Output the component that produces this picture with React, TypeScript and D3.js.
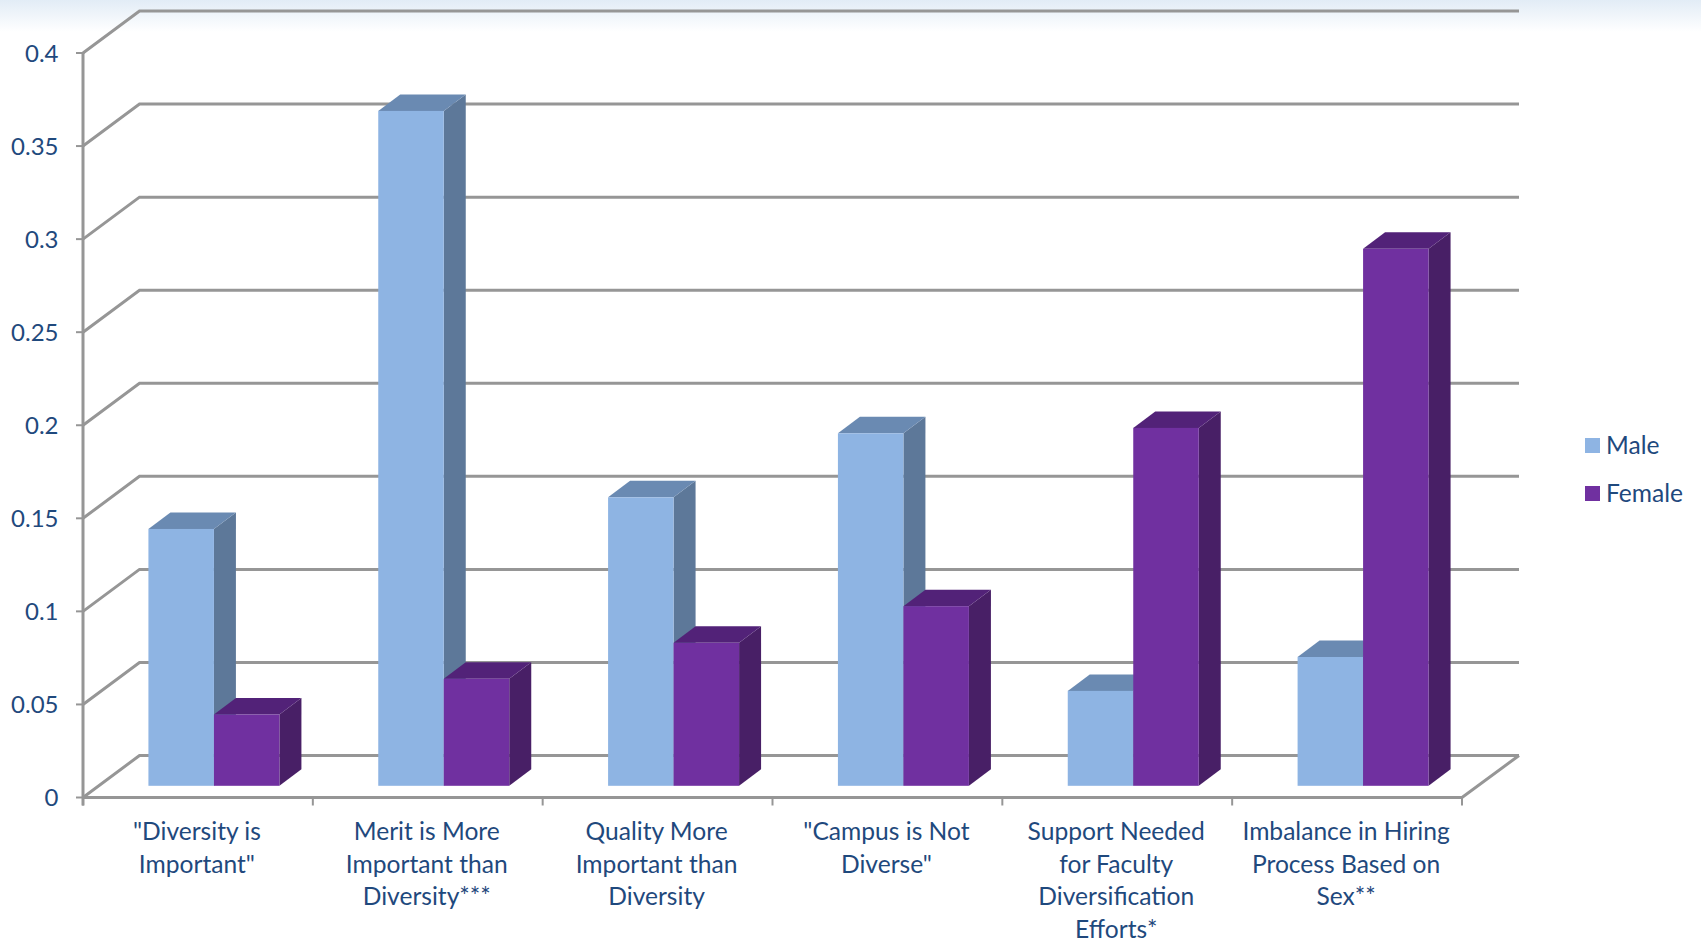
import React from "react";
import * as d3 from "d3";

const categories = [
  ['"Diversity is', 'Important"'],
  ["Merit is More", "Important than", "Diversity***"],
  ["Quality More", "Important than", "Diversity"],
  ['"Campus is Not', 'Diverse"'],
  ["Support Needed", "for Faculty", "Diversification", "Efforts*"],
  ["Imbalance in Hiring", "Process Based on", "Sex**"],
];
const male = [0.138, 0.3626, 0.155, 0.1894, 0.051, 0.0692];
const female = [0.0383, 0.0575, 0.0768, 0.0965, 0.1923, 0.2885];
const yTicks = [0, 0.05, 0.1, 0.15, 0.2, 0.25, 0.3, 0.35, 0.4];
const seriesNames = ["Male", "Female"];
const front = ["#8eb4e3", "#7030a0"];
const side = ["#5d7899", "#481f66"];
const top = ["#6a8ab2", "#522278"];

const W = 1701, H = 940;
const TEXT = "#1f497d";
const GRID = "#969696";
const FONT = "Lato, 'Open Sans', sans-serif";
const wallDx = 56.5, wallDy = 42;
const barDx = 22, barDy = 16.5;
const planeDx = 16, planeDy = 11.7;

export default function App() {
  const y = d3.scaleLinear().domain([0, 0.4]).range([797.5, 53]);
  const x = d3.scaleBand<number>().domain(d3.range(categories.length)).range([83, 1462]);
  const sub = d3.scaleBand<number>().domain([0, 1]).range([0, x.bandwidth()]).paddingOuter(0.7545).paddingInner(0);
  const values = [male, female];
  const poly = (pts: [number, number][]) => pts.map((p) => p.join(",")).join(" ");

  return (
    <svg width={W} height={H} viewBox={`0 0 ${W} ${H}`} style={{ position: "absolute", left: 0, top: 0, display: "block", background: "#fff" }} fontFamily={FONT}>
      <defs>
        <linearGradient id="bg" x1="0" y1="0" x2="0" y2="1">
          <stop offset="0" stopColor="#e2ecf6" />
          <stop offset="1" stopColor="#ffffff" />
        </linearGradient>
      </defs>
      <rect x={0} y={0} width={W} height={32} fill="url(#bg)" />

      {yTicks.map((t) => (
        <polyline key={t} points={poly([[83, y(t)], [83 + wallDx, y(t) - wallDy], [1519, y(t) - wallDy]])} fill="none" stroke={GRID} strokeWidth={3} />
      ))}
      <polyline points={poly([[83, y(0)], [1462, y(0)], [1519, y(0) - wallDy]])} fill="none" stroke={GRID} strokeWidth={3} />
      <line x1={83} x2={83} y1={y(0.4)} y2={y(0) + 8} stroke={GRID} strokeWidth={3} />
      {yTicks.map((t) => (
        <line key={t} x1={76} x2={83} y1={y(t)} y2={y(t)} stroke={GRID} strokeWidth={2} />
      ))}
      {d3.range(categories.length + 1).map((i) => {
        const tx = 83 + i * x.step();
        return <line key={i} x1={tx} x2={tx} y1={y(0)} y2={y(0) + 8} stroke={GRID} strokeWidth={2} />;
      })}

      {yTicks.map((t) => (
        <text key={t} x={58.5} y={y(t)} dy="0.36em" textAnchor="end" fontSize={24} fill={TEXT}>{String(t)}</text>
      ))}

      {categories.map((_, c) =>
        values.map((vals, s) => {
          const x0 = x(c)! + planeDx + sub(s)!;
          const x1 = x0 + sub.bandwidth();
          const base = y(0) - planeDy;
          const h = y(0) - y(vals[c]);
          const t = base - h;
          return (
            <g key={`${c}-${s}`}>
              <polygon points={poly([[x1, t], [x1 + barDx, t - barDy], [x1 + barDx, base - barDy], [x1, base]])} fill={side[s]} />
              <polygon points={poly([[x0, t], [x0 + barDx, t - barDy], [x1 + barDx, t - barDy], [x1, t]])} fill={top[s]} />
              <rect x={x0} y={t} width={x1 - x0} height={base - t} fill={front[s]} />
            </g>
          );
        })
      )}

      {categories.map((lines, c) => (
        <text key={c} textAnchor="middle" fontSize={24.6} fill={TEXT}>
          {lines.map((l, i) => (
            <tspan key={i} x={x(c)! + x.bandwidth() / 2 - 1} y={831.5 + i * 32.4} dy="0.36em">{l}</tspan>
          ))}
        </text>
      ))}

      {seriesNames.map((n, i) => (
        <g key={n}>
          <rect x={1585} y={438 + i * 48} width={15} height={15} fill={front[i]} />
          <text x={1606} y={445.5 + i * 48} dy="0.36em" fontSize={24.6} fill={TEXT}>{n}</text>
        </g>
      ))}
    </svg>
  );
}
